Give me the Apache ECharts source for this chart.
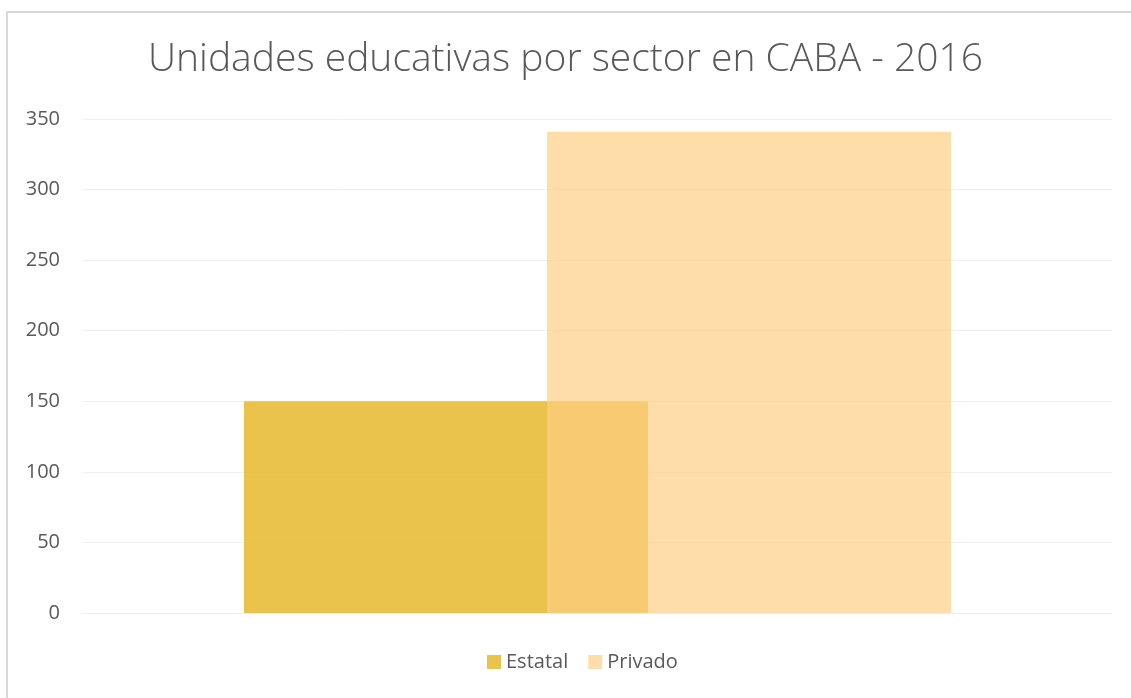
<!DOCTYPE html>
<html>
<head>
<meta charset="utf-8">
<script src="https://cdn.jsdelivr.net/npm/echarts@6/dist/echarts.min.js"></script>
<style>
  html, body { margin: 0; padding: 0; background: #fff; }
  #chart { width: 1131px; height: 698px; }
</style>
</head>
<body>
<div id="chart"></div>
<script>
// datos
const categories = ['2016']
const seriesNames = ['Estatal', 'Privado']
const estatal = [150]
const privado = [341]
const yTicks = [0, 50, 100, 150, 200, 250, 300, 350]

const chart = echarts.init(document.getElementById('chart'), null, { renderer: 'canvas' })

const textColor = '#595959'
const font = "'Open Sans', 'Noto Sans', sans-serif"

chart.setOption({
  backgroundColor: '#fff',
  animation: false,
  title: {
    text: 'Unidades educativas por sector en CABA - 2016',
    left: 'center',
    top: 35,
    textStyle: {
      color: textColor,
      fontFamily: font,
      fontWeight: 300,
      fontSize: 39
    }
  },
  legend: {
    data: seriesNames,
    bottom: 21,
    left: 482,
    itemWidth: 14,
    itemHeight: 14,
    itemGap: 20,
    icon: 'rect',
    textStyle: { color: textColor, fontFamily: font, fontSize: 20 }
  },
  grid: { left: 83, right: 19, top: 119, bottom: 85 },
  xAxis: {
    type: 'category',
    data: categories,
    axisLine: { show: true, lineStyle: { color: '#EFEFEF', width: 1 } },
    axisTick: { show: false },
    axisLabel: { show: false }
  },
  yAxis: {
    type: 'value',
    min: yTicks[0],
    max: yTicks[yTicks.length - 1],
    interval: 50,
    axisLine: { show: false },
    axisTick: { show: false },
    axisLabel: { color: textColor, fontFamily: font, fontSize: 20, margin: 23 },
    splitLine: { lineStyle: { color: '#EFEFEF', width: 1 } }
  },
  series: [
    {
      name: seriesNames[0],
      type: 'bar',
      data: estatal,
      barWidth: 404,
      barGap: '-25%',
      itemStyle: { color: 'rgba(229,184,44,0.85)' }
    },
    {
      name: seriesNames[1],
      type: 'bar',
      data: privado,
      barWidth: 404,
      itemStyle: { color: 'rgba(254,206,132,0.7)' }
    }
  ],
  graphic: [
    {
      type: 'rect',
      silent: true,
      shape: { x: 7, y: 12, width: 1200, height: 800 },
      style: { fill: null, stroke: '#D9D9D9', lineWidth: 2 },
      z: 100
    }
  ]
})
</script>
</body>
</html>
